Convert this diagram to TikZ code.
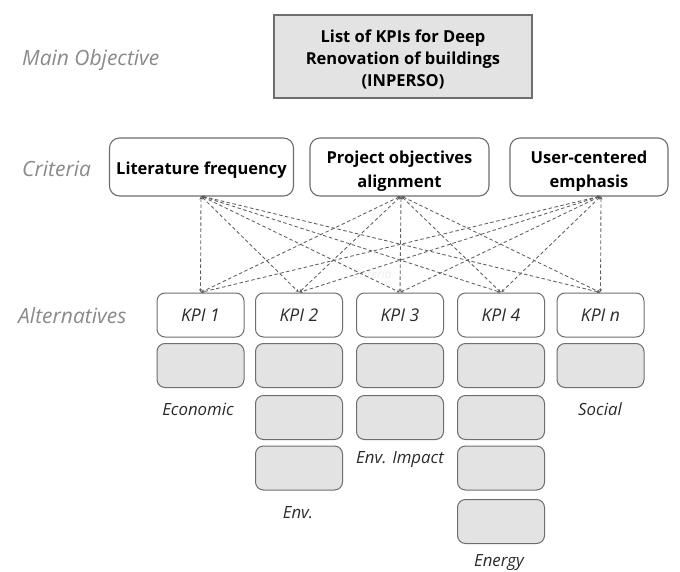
\documentclass[tikz,border=0pt]{standalone}
\usepackage{fontspec}
\setmainfont{Open Sans}
\usetikzlibrary{arrows.meta}
\definecolor{edgegray}{HTML}{6E6E6E}
\definecolor{linkgray}{HTML}{5E5E5E}
\definecolor{boxfill}{HTML}{E3E3E3}
\definecolor{sidegray}{HTML}{8A8A8A}
\definecolor{inkdark}{HTML}{2B2B2B}
% centred text block, set a little lower in its frame without changing the frame
\newcommand{\droptext}[2][3.5pt]{\raisebox{-#1}[\height][\depth]{\begin{tabular}{@{}c@{}}#2\end{tabular}}}
\tikzset{
  goalbox/.style={draw=edgegray, line width=1.2pt, fill=boxfill, minimum width=258pt, minimum height=83pt,
    font=\fontsize{16.5}{22}\selectfont\bfseries, text=black, inner sep=0pt},
  critbox/.style={draw=edgegray, line width=1.1pt, fill=white, rounded corners=10pt, minimum height=58pt,
    font=\fontsize{16.5}{24}\selectfont\bfseries, text=black, inner sep=0pt},
  kpibox/.style={draw=edgegray, line width=1pt, fill=white, rounded corners=8pt, minimum width=87pt, minimum height=44pt,
    font=\fontsize{17.5}{20}\selectfont\itshape, text=inkdark, inner sep=0pt},
  slot/.style={draw=edgegray, line width=1pt, fill=boxfill, rounded corners=8pt, minimum width=87pt, minimum height=44pt, inner sep=0pt},
  sidelabel/.style={font=\fontsize{21}{24}\selectfont\itshape, text=sidegray, anchor=west, inner sep=0pt},
  grouplabel/.style={font=\fontsize{16.8}{20}\selectfont\itshape, text=inkdark, inner sep=0pt},
  link/.style={draw=linkgray, line width=0.85pt, dash pattern=on 3.5pt off 2.5pt,
    {Stealth[length=3pt,width=3pt]}-{Stealth[length=3pt,width=3pt]}, shorten <=0.5pt, shorten >=0.5pt}
}
\begin{document}
\begin{tikzpicture}[x=1pt,y=-1pt]
\useasboundingbox[fill=white] (0,0) rectangle (680,572);

% level names
\node[sidelabel] (lvgoal) at (22,60) {Main Objective};
\node[sidelabel] (lvcrit) at (22,168.5) {Criteria};
\node[sidelabel] (lvalt) at (18,316) {Alternatives};

% goal
\node[goalbox] (goal) at (403,56.5) {\droptext[4pt]{List of KPIs for Deep\\Renovation of buildings\\(INPERSO)}};

% criteria
\node[critbox, minimum width=184pt] (c1) at (201.5,167) {\droptext[3pt]{Literature frequency}};
\node[critbox, minimum width=179pt] (c2) at (399.5,167) {\droptext[3.5pt]{Project objectives\\alignment}};
\node[critbox, minimum width=158pt] (c3) at (589,167) {\droptext[3.5pt]{User-centered\\emphasis}};

% faint watermark
\node[font=\fontsize{12}{14}\selectfont\itshape, text=black!7] (wm) at (372,274) {Criteria};

% alternatives
\node[kpibox] (k1) at (200.5,315) {KPI 1};
\node[kpibox] (k2) at (299,315) {KPI 2};
\node[kpibox] (k3) at (400,315) {KPI 3};
\node[kpibox] (k4) at (501,315) {KPI 4};
\node[kpibox] (k5) at (600.5,315) {KPI \textit{n}};

% anchor points on the criteria bottoms
\coordinate (s1) at (201,196);
\coordinate (s2) at (401,196);
\coordinate (s3) at (601,196);

% links criteria -> alternatives
\foreach \s in {s1,s2,s3}{
  \foreach \k in {k1,k2,k3,k4,k5}{
    \draw[link] (\s) -- (\k.north);
  }
}

% KPI slots
\node[slot] (e1) at (200.5,365.5) {};
\node[slot] (v1) at (299,365.5) {};
\node[slot] (v2) at (299,417.5) {};
\node[slot] (v3) at (299,468) {};
\node[slot] (i1) at (400,365.5) {};
\node[slot] (i2) at (400,417.5) {};
\node[slot] (g1) at (501,365.5) {};
\node[slot] (g2) at (501,417.5) {};
\node[slot] (g3) at (501,468) {};
\node[slot] (g4) at (501,521.5) {};
\node[slot] (o1) at (600.5,365.5) {};

% group names
\node[grouplabel] (le) at (198,409) {Economic};
\node[grouplabel] (lv) at (298,513) {Env.};
\node[grouplabel] (li) at (400,460) {Env. Impact};
\node[grouplabel] (lg) at (499,563) {Energy};
\node[grouplabel] (lo) at (600,409) {Social};
\end{tikzpicture}
\end{document}
